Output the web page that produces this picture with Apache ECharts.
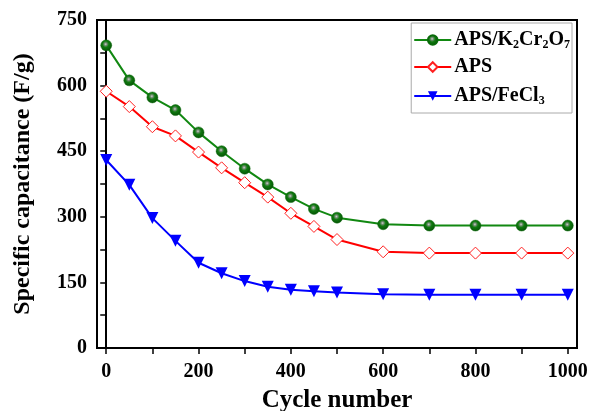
<!DOCTYPE html>
<html>
<head>
<meta charset="utf-8">
<script src="https://cdn.jsdelivr.net/npm/echarts@6/dist/echarts.min.js"></script>
<style>
  html, body { margin: 0; padding: 0; background: #fff; }
  #chart { width: 589px; height: 411px; }
</style>
</head>
<body>
<div id="chart"></div>
<script>
// cycle numbers
var cycles = [0, 50, 100, 150, 200, 250, 300, 350, 400, 450, 500, 600, 700, 800, 900, 1000];
// specific capacitance (F/g)
var k2cr2o7 = [692, 612, 573, 544, 493, 450, 410, 374, 345, 318, 298, 283, 280, 280, 280, 280];
var aps = [587, 552, 506, 485, 448, 412, 378, 345, 308, 278, 248, 220, 217, 217, 217, 217];
var fecl3 = [430, 373, 297, 245, 195, 171, 153, 140, 133, 130, 127, 123, 122, 122, 122, 122];
var xTicks = [0, 100, 200, 300, 400, 500, 600, 700, 800, 900, 1000];
var xLabels = [0, 200, 400, 600, 800, 1000];
var seriesNames = ['APS/K2Cr2O7', 'APS', 'APS/FeCl3'];

var font = '"Liberation Serif", "Times New Roman", serif';

function pairs(ys) {
  return cycles.map(function (c, i) { return [c, ys[i]]; });
}

var chart = echarts.init(document.getElementById('chart'));

var greenBall = new echarts.graphic.RadialGradient(0.45, 0.4, 0.6, [
  { offset: 0, color: '#d0d0d0' },
  { offset: 0.22, color: '#6a8a6a' },
  { offset: 0.45, color: '#0f7a0f' },
  { offset: 1, color: '#065006' }
]);

var option = {
  backgroundColor: '#fff',
  animation: false,
  grid: {
    left: 97, top: 20, right: 12, bottom: 63,
    containLabel: false,
    outerBoundsMode: 'none',
    show: true, borderColor: '#000', borderWidth: 2, backgroundColor: 'transparent'
  },
  legend: {
    orient: 'vertical',
    right: 17,
    top: 23,
    itemWidth: 37,
    itemHeight: 12,
    itemGap: 6,
    padding: [4, 2, 6, 2],
    backgroundColor: '#fff',
    borderColor: '#aaa',
    borderWidth: 1,
    borderRadius: 0,
    data: seriesNames,
    formatter: function (name) {
      if (name === 'APS/K2Cr2O7') return '{t|APS/K}{s|2}{t|Cr}{s|2}{t|O}{s|7}';
      if (name === 'APS/FeCl3') return '{t|APS/FeCl}{s|3}';
      return '{t|' + name + '}';
    },
    textStyle: {
      fontFamily: font,
      fontWeight: 'bold',
      fontSize: 20,
      color: '#000',
      padding: [0, 0, 0, -2],
      rich: {
        t: { fontFamily: font, fontWeight: 'bold', fontSize: 20, color: '#000', lineHeight: 22 },
        s: { fontFamily: font, fontWeight: 'bold', fontSize: 12, color: '#000', lineHeight: 22, verticalAlign: 'bottom', padding: [12, 0, 0, 0] }
      }
    }
  },
  xAxis: {
    type: 'value',
    min: -20,
    max: 1020,
    name: 'Cycle number',
    nameLocation: 'middle',
    nameGap: 40,
    nameTextStyle: { fontFamily: font, fontWeight: 'bold', fontSize: 25, color: '#000' },
    splitLine: { show: false },
    axisLine: { show: true, onZero: false, lineStyle: { color: '#000', width: 2 } },
    axisTick: { show: true, inside: false, length: 6, customValues: xTicks, lineStyle: { color: '#000', width: 1.5 } },
    axisLabel: {
      customValues: xLabels, margin: 14,
      fontFamily: font, fontWeight: 'bold', fontSize: 20, color: '#000',
      formatter: function (v) { return String(v); }
    }
  },
  yAxis: {
    type: 'value',
    min: 0,
    max: 750,
    interval: 75,
    name: 'Specific capacitance (F/g)',
    nameLocation: 'middle',
    nameGap: 62,
    nameRotate: 90,
    nameTextStyle: { fontFamily: font, fontWeight: 'bold', fontSize: 24, color: '#000' },
    splitLine: { show: false },
    axisLine: { show: true, lineStyle: { color: '#000', width: 2 } },
    axisTick: { show: true, inside: false, length: 6, lineStyle: { color: '#000', width: 1.5 } },
    axisLabel: {
      margin: 10,
      fontFamily: font, fontWeight: 'bold', fontSize: 20, color: '#000',
      formatter: function (v) { return v % 150 === 0 ? String(v) : ''; }
    }
  },
  series: [
    {
      name: seriesNames[0],
      type: 'line',
      data: pairs(k2cr2o7),
      symbol: 'circle',
      symbolSize: 11,
      lineStyle: { color: '#118811', width: 2 },
      itemStyle: { color: greenBall, borderColor: '#0a6a0a', borderWidth: 0.5 },
      z: 3
    },
    {
      name: seriesNames[1],
      type: 'line',
      data: pairs(aps),
      symbol: 'diamond',
      symbolSize: 12,
      lineStyle: { color: '#ff0000', width: 2 },
      itemStyle: { color: '#fff', borderColor: '#ff2020', borderWidth: 1 },
      z: 2
    },
    {
      name: seriesNames[2],
      type: 'line',
      data: pairs(fecl3),
      symbol: 'triangle',
      symbolRotate: 180,
      symbolSize: 12,
      lineStyle: { color: '#0000ff', width: 2 },
      itemStyle: { color: '#0000ff' },
      z: 2
    }
  ]
};

chart.setOption(option);
</script>
</body>
</html>
